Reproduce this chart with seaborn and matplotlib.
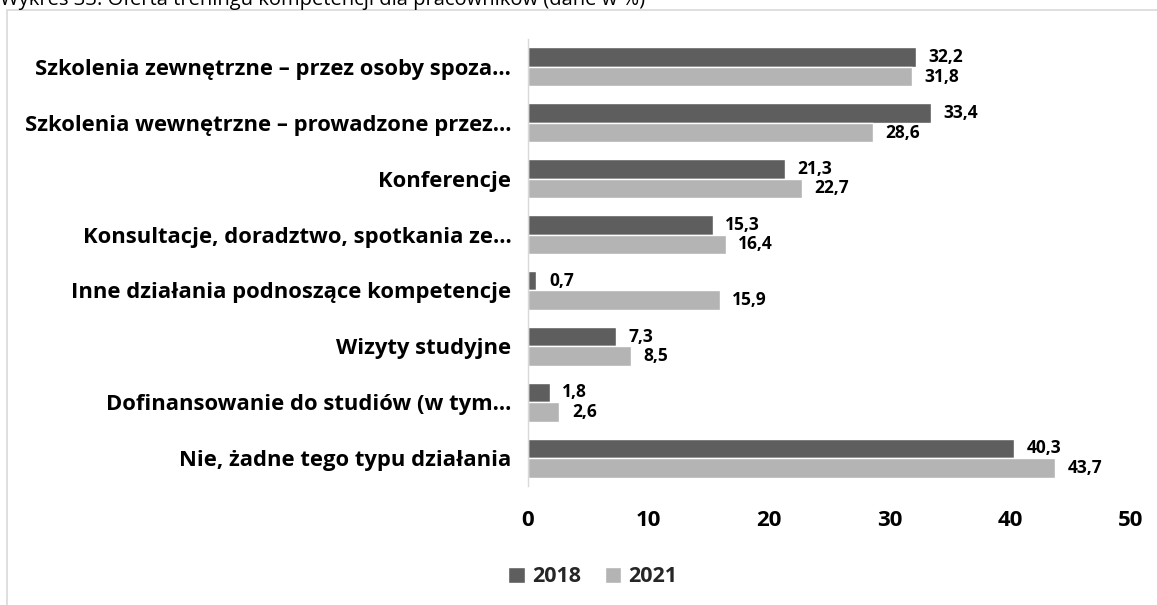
import matplotlib
matplotlib.use("Agg")
import matplotlib.pyplot as plt
import seaborn as sns
import pandas as pd
from matplotlib.patches import Rectangle

categories = [
    "Szkolenia zewnętrzne – przez osoby spoza…",
    "Szkolenia wewnętrzne – prowadzone przez…",
    "Konferencje",
    "Konsultacje, doradztwo, spotkania ze…",
    "Inne działania podnoszące kompetencje",
    "Wizyty studyjne",
    "Dofinansowanie do studiów (w tym…",
    "Nie, żadne tego typu działania",
]
years = ["2018", "2021"]
values_2018 = [32.2, 33.4, 21.3, 15.3, 0.7, 7.3, 1.8, 40.3]
values_2021 = [31.8, 28.6, 22.7, 16.4, 15.9, 8.5, 2.6, 43.7]
title = "Wykres 33. Oferta treningu kompetencji dla pracowników (dane w %)"

df = pd.DataFrame({
    "kategoria": categories * 2,
    "rok": [years[0]] * len(categories) + [years[1]] * len(categories),
    "wartosc": values_2018 + values_2021,
})

sns.set_theme(style="white")
plt.rcParams["font.family"] = ["Open Sans", "DejaVu Sans"]

fig = plt.figure(figsize=(11.57, 6.05), dpi=100)
ax = fig.add_axes([528 / 1157, 1 - 486 / 605, (1131 - 528) / 1157, (486 - 39) / 605])

palette = {"2018": "#5e5e5e", "2021": "#b4b4b4"}
sns.barplot(data=df, y="kategoria", x="wartosc", hue="rok", order=categories,
            hue_order=years, palette=palette, orient="h", width=0.7,
            saturation=1, ax=ax, legend=True)

for cont in ax.containers:
    ax.bar_label(cont, labels=[f"{v:.1f}".replace(".", ",") for v in cont.datavalues],
                 padding=9, fontsize=12.5, fontweight="bold", color="black")

ax.set_xlim(0, 50)
ax.set_xticks([0, 10, 20, 30, 40, 50])
ax.set_xlabel("")
ax.set_ylabel("")
for s in ["top", "right", "bottom"]:
    ax.spines[s].set_visible(False)
ax.spines["left"].set_color("#d9d9d9")
ax.spines["left"].set_linewidth(1)
ax.tick_params(axis="x", length=0, pad=17, labelsize=16)
ax.tick_params(axis="y", length=0, pad=12, labelsize=15.8)
for lab in ax.get_xticklabels() + ax.get_yticklabels():
    lab.set_fontweight("bold")
    lab.set_color("black")

leg = ax.legend(loc="center", bbox_to_anchor=(593 / 1157, 1 - 577 / 605),
                bbox_transform=fig.transFigure, ncol=2, frameon=False,
                prop={"weight": "bold", "size": 15.5}, handlelength=0.75,
                handleheight=0.75, handletextpad=0.35, columnspacing=1.1)

fig.patches.append(Rectangle((7 / 1157, -0.1), 1.2, 1.1 - 10 / 605,
                             transform=fig.transFigure, fill=False,
                             edgecolor="#d9d9d9", linewidth=1.2))
fig.text(0.0, 1 - 5 / 605, title, fontsize=14.5, va="baseline", ha="left", color="black")

fig.savefig("out.png", dpi=100)
